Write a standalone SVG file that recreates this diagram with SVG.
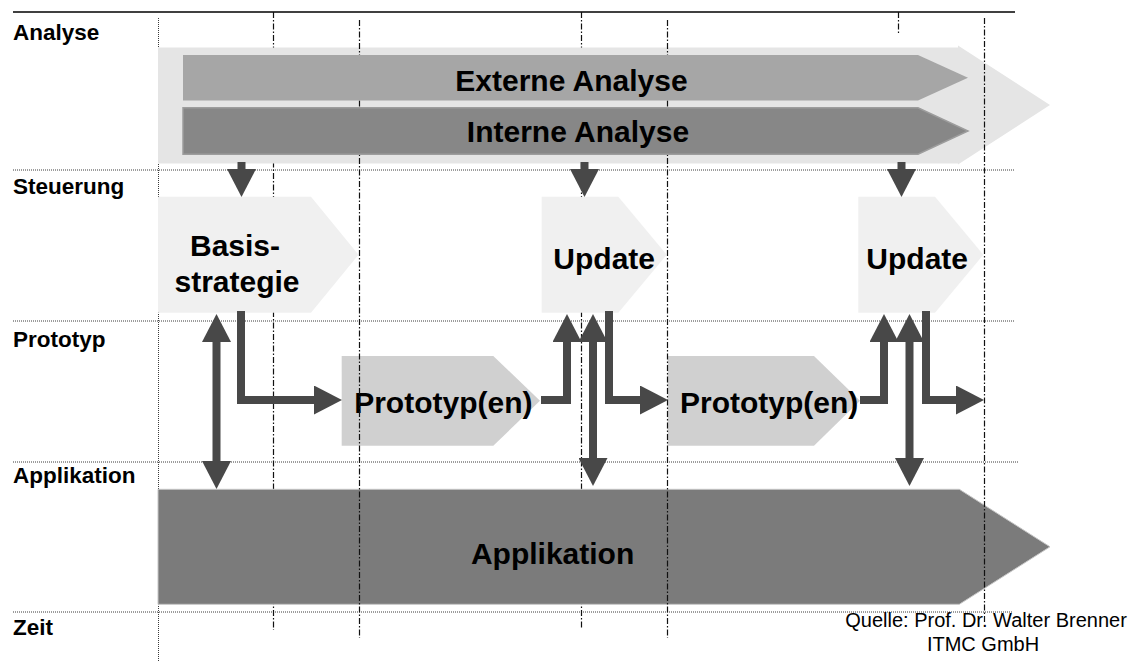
<svg xmlns="http://www.w3.org/2000/svg" width="1136" height="661" viewBox="0 0 1136 661">
  <style>
    .lane { fill: none; stroke: #3a3a3a; stroke-width: 1; stroke-dasharray: 1 1; }
    .phase { fill: none; stroke: #111; stroke-width: 1.2; stroke-dasharray: 6 2 1.5 2; }
    .lbl { font-family: "Liberation Sans", Arial, sans-serif; font-weight: bold; font-size: 22.5px; fill: #000; }
    .big { font-family: "Liberation Sans", Arial, sans-serif; font-weight: bold; font-size: 30px; fill: #000; text-anchor: middle; }
    .src { font-family: "Liberation Sans", Arial, sans-serif; font-size: 20px; fill: #000; text-anchor: middle; }
    .flow { fill: none; stroke: #484848; stroke-width: 8; stroke-linejoin: miter; }
  </style>
  <defs>
    <marker id="head" markerUnits="userSpaceOnUse" viewBox="0 0 28 29" markerWidth="28" markerHeight="29" refX="1" refY="14.5" orient="auto-start-reverse">
      <path d="M0,0 L28,14.5 L0,29 z" fill="#484848"/>
    </marker>
  </defs>

  <rect width="1136" height="661" fill="#fff"/>

  <!-- swimlane grid -->
  <g id="grid">
    <line x1="13" y1="12" x2="1015" y2="12" stroke="#000" stroke-width="1.3"/>
    <line class="lane" x1="13" y1="170" x2="1015" y2="170"/>
    <line class="lane" x1="13" y1="321" x2="1015" y2="321"/>
    <line class="lane" x1="13" y1="462" x2="1018" y2="462"/>
    <line class="lane" x1="13" y1="612" x2="1013" y2="612"/>
    <line class="lane" x1="158.5" y1="18" x2="158.5" y2="661"/>
    <line class="phase" x1="273.5" y1="12" x2="273.5" y2="630"/>
    <line class="phase" x1="581.5" y1="12" x2="581.5" y2="628"/>
    <line class="phase" x1="898.5" y1="12" x2="898.5" y2="35"/>
  </g>

  <!-- lane labels -->
  <g id="lane-labels">
    <text class="lbl" x="13" y="40">Analyse</text>
    <text class="lbl" x="13" y="194">Steuerung</text>
    <text class="lbl" x="13" y="346.5">Prototyp</text>
    <text class="lbl" x="13" y="483">Applikation</text>
    <text class="lbl" x="13" y="635">Zeit</text>
  </g>

  <g id="analyse">
    <polygon points="158,47.5 958,47.5 958,45.5 1050,105 958,164.5 958,163.5 158,163.5" fill="#e5e5e5"/>
  </g>

  <g id="applikation">
    <polygon points="158,489.3 959.3,489.3 1050,546.8 959.3,604.3 158,604.3" fill="#7b7b7b" stroke="#c6c6c6" stroke-width="1"/>
    <text class="big" x="552.6" y="564">Applikation</text>
  </g>

  <g id="basisstrategie">
    <polygon points="158,196.7 311,196.7 358.5,254.7 311,312.7 158,312.7" fill="#f0f0f0"/>
    <text class="big" x="235" y="256">Basis-</text>
    <text class="big" x="237" y="291.5">strategie</text>
  </g>

  <g id="update-1">
    <polygon points="541.7,196.7 618.3,196.7 666.7,254.7 618.3,312.7 541.7,312.7" fill="#f0f0f0"/>
    <text class="big" x="604.2" y="269">Update</text>
  </g>

  <g id="update-2">
    <polygon points="858.3,196.7 935,196.7 983.3,254.7 935,312.7 858.3,312.7" fill="#f0f0f0"/>
    <text class="big" x="917.2" y="269">Update</text>
  </g>

  <g id="prototyp-1">
    <polygon points="341.7,356 493.3,356 540,400.8 493.3,445.7 341.7,445.7" fill="#d0d0d0"/>
    <text class="big" x="443.3" y="413">Prototyp(en)</text>
  </g>

  <g id="prototyp-2">
    <polygon points="667.7,356 814,356 860,400.8 814,445.7 667.7,445.7" fill="#d0d0d0"/>
    <text class="big" x="769.2" y="413">Prototyp(en)</text>
  </g>

  <!-- phase lines that run over the lighter shapes -->
  <g id="phase-lines">
    <line class="phase" x1="359.5" y1="20" x2="359.5" y2="638"/>
    <line class="phase" x1="667.5" y1="20" x2="667.5" y2="638"/>
    <line class="phase" x1="984.5" y1="18" x2="984.5" y2="624"/>
  </g>

  <g id="externe-analyse">
    <polygon points="183,55 918,55 968,77.8 918,100.6 183,100.6" fill="#a6a6a6"/>
    <text class="big" x="571.5" y="91">Externe Analyse</text>
  </g>

  <g id="interne-analyse">
    <polygon points="183,107.7 918,107.7 968,131 918,154.3 183,154.3" fill="#878787" stroke="#9d9d9d" stroke-width="1.5"/>
    <text class="big" x="578" y="141.5">Interne Analyse</text>
  </g>

  <g id="connectors">
    <!-- analysis feeds into steering -->
    <line class="flow" x1="241.5" y1="162" x2="241.5" y2="170" marker-end="url(#head)"/>
    <line class="flow" x1="584.5" y1="162" x2="584.5" y2="170" marker-end="url(#head)"/>
    <line class="flow" x1="901.5" y1="162" x2="901.5" y2="170" marker-end="url(#head)"/>
    <!-- steering to prototypes -->
    <polyline class="flow" points="241,311 241,400 315,400" marker-end="url(#head)"/>
    <polyline class="flow" points="609,311 609,400 641,400" marker-end="url(#head)"/>
    <polyline class="flow" points="926,311 926,400 957,400" marker-end="url(#head)"/>
    <!-- prototypes back to updates -->
    <polyline class="flow" points="541,400 567,400 567,341" marker-end="url(#head)"/>
    <polyline class="flow" points="860,400 884,400 884,341" marker-end="url(#head)"/>
    <!-- steering and application exchange -->
    <line class="flow" x1="216.5" y1="341" x2="216.5" y2="462" marker-start="url(#head)" marker-end="url(#head)"/>
    <line class="flow" x1="593" y1="341" x2="593" y2="459" marker-start="url(#head)" marker-end="url(#head)"/>
    <line class="flow" x1="909.5" y1="341" x2="909.5" y2="459" marker-start="url(#head)" marker-end="url(#head)"/>
  </g>

  <g id="source">
    <text class="src" x="986" y="627">Quelle: Prof. Dr. Walter Brenner</text>
    <text class="src" x="983" y="651">ITMC GmbH</text>
  </g>
</svg>
